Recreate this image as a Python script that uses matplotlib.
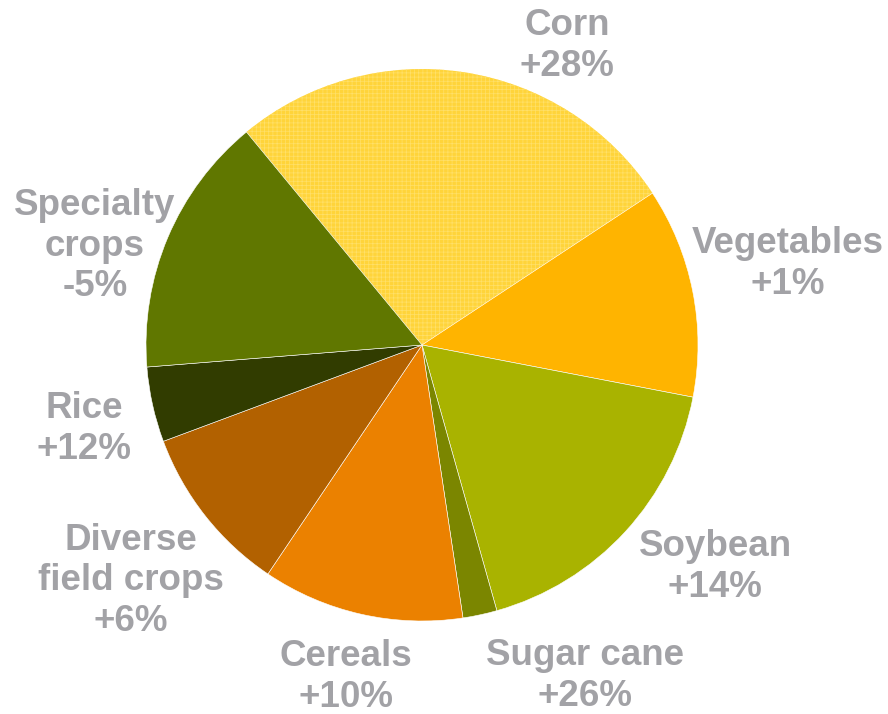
import numpy as np
import matplotlib
matplotlib.use("Agg")
import matplotlib.pyplot as plt

# crop share of the pie (percent), clockwise from Corn
crops = ['Corn', 'Vegetables', 'Soybean', 'Sugar cane', 'Cereals',
         'Diverse\nfield crops', 'Rice', 'Specialty\ncrops']
shares = [26.7, 12.3, 17.6, 2.0, 11.8, 9.9, 4.4, 15.3]
changes = ['+28%', '+1%', '+14%', '+26%', '+10%', '+6%', '+12%', '-5%']
colors = ['#FFD43A', '#FFB400', '#A9B300', '#7B8600', '#EB8100',
          '#B26100', '#313C00', '#607700']

# label centres in pixels of the 888x714 image
label_px = [(567, 46), (788, 264), (715, 567), (585, 676), (346, 677),
            (131, 581), (84, 429), (95, 246)]

W, H = 888, 714
cx, cy, R = 422, 345, 276

fig = plt.figure(figsize=(W / 100, H / 100), dpi=100)
ax = fig.add_axes([(cx - R) / W, (H - cy - R) / H, 2 * R / W, 2 * R / H])

plt.rcParams['hatch.linewidth'] = 0.5
wedges, _ = ax.pie(shares, colors=colors, startangle=129.5, counterclock=False,
                   radius=1, wedgeprops=dict(edgecolor='white', linewidth=0.4))
# fine checker texture on the corn slice
wedges[0].set_hatch('++++')
wedges[0].set_edgecolor('#FFE06A')
wedges[0].set_linewidth(0)
ax.set_xlim(-1, 1)
ax.set_ylim(-1, 1)
ax.set_aspect('equal')
ax.axis('off')

for name, ch, (px, py) in zip(crops, changes, label_px):
    fig.text(px / W, 1 - py / H, name + '\n' + ch, ha='center', va='center',
             fontsize=26.5, fontweight='bold', color='#A2A2A6',
             family='Liberation Sans', linespacing=1.2)

fig.savefig('out.png', dpi=100)
